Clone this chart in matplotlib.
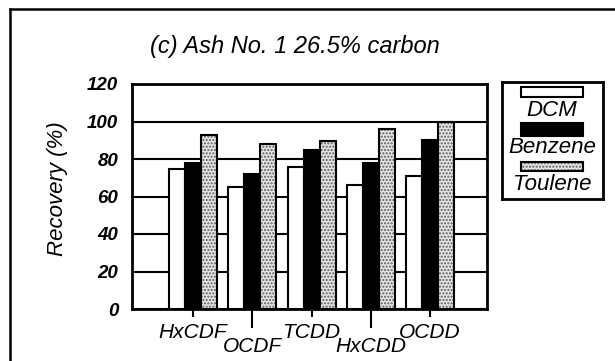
import numpy as np
import matplotlib.pyplot as plt
from matplotlib.patches import Rectangle
from matplotlib.lines import Line2D

plt.rcParams['font.family'] = ['Liberation Sans', 'DejaVu Sans']

compounds = ['HxCDF', 'OCDF', 'TCDD', 'HxCDD', 'OCDD']
dcm = [74.5, 65, 76, 66, 71]
benzene = [78, 72, 85, 78, 90]
toulene = [93, 88, 89.5, 96, 100]
yticks = [0, 20, 40, 60, 80, 100, 120]

W, H = 615, 361
fig = plt.figure(figsize=(W / 100, H / 100), dpi=100)

# main axes, placed by pixel box (left 132, right 487, top 84, bottom 309)
ax = fig.add_axes([132 / W, 1 - 309 / H, 355 / W, 225 / H])

x = np.arange(len(compounds))
bw = 0.27

ax.bar(x - bw, dcm, bw, color='white', edgecolor='black', lw=1.5, zorder=3)
ax.bar(x, benzene, bw, color='black', edgecolor='black', lw=1.5, zorder=3)
# stippled bars: fill + dots, then outline on top
ax.bar(x + bw, toulene, bw, color='#e4e4e4', edgecolor='#5a5a5a', hatch='.....',
       lw=0, zorder=3)
ax.bar(x + bw, toulene, bw, fill=False, edgecolor='black', lw=1.5, zorder=4)

ax.set_xlim(-1.03, 4.96)
ax.set_ylim(0, 120)
ax.set_yticks(yticks)
ax.set_yticklabels([str(v) for v in yticks], fontsize=13.5, fontweight='bold',
                   fontstyle='italic')
ax.tick_params(axis='y', length=0, pad=10)

ax.yaxis.grid(True, color='black', lw=1.5)
ax.set_axisbelow(True)

# staggered category labels: upper row as major ticks, lower row as minor ticks
ax.set_xticks(x[::2])
ax.set_xticklabels(compounds[::2], fontsize=15, fontstyle='italic')
ax.set_xticks(x[1::2], minor=True)
ax.set_xticklabels(compounds[1::2], minor=True, fontsize=15, fontstyle='italic')
ax.tick_params(axis='x', which='major', length=6, width=1.5, pad=4)
ax.tick_params(axis='x', which='minor', length=14, width=1.5, pad=6)

for s in ax.spines.values():
    s.set_linewidth(2)

fig.text(295 / W, 1 - 47 / H, '(c) Ash No. 1 26.5% carbon', fontsize=17,
         fontstyle='italic', ha='center', va='center')
fig.text(58 / W, 1 - 189 / H, 'Recovery (%)', fontsize=16, fontstyle='italic',
         rotation=90, ha='center', va='center')

# legend box, drawn in its own pixel-unit axes
lax = fig.add_axes([502 / W, 1 - 199 / H, 101 / W, 117 / H])
lax.set_xlim(502, 603)
lax.set_ylim(199, 82)
lax.set_xticks([])
lax.set_yticks([])
for s in lax.spines.values():
    s.set_linewidth(2)
lax.add_patch(Rectangle((521, 87), 62, 10, facecolor='white', edgecolor='black', lw=1.5))
lax.add_patch(Rectangle((521, 123), 62, 13, facecolor='black', edgecolor='black', lw=1.5))
lax.add_patch(Rectangle((521, 162), 62, 9, facecolor='#e4e4e4', edgecolor='#5a5a5a',
                        hatch='.....', lw=0))
lax.add_patch(Rectangle((521, 162), 62, 9, fill=False, edgecolor='black', lw=1.5))
for label, yy in zip(['DCM', 'Benzene', 'Toulene'], [111, 148, 185]):
    lax.text(552, yy, label, fontsize=16, fontstyle='italic', ha='center', va='center')

# outer frame (only left and top edges visible in the scan)
fig.add_artist(Line2D([10 / W, 10 / W], [0, 1 - 9 / H], transform=fig.transFigure,
                      color='black', lw=1.8))
fig.add_artist(Line2D([10 / W, 1], [1 - 9 / H, 1 - 9 / H], transform=fig.transFigure,
                      color='black', lw=1.8))

fig.savefig('out.png', dpi=100)
